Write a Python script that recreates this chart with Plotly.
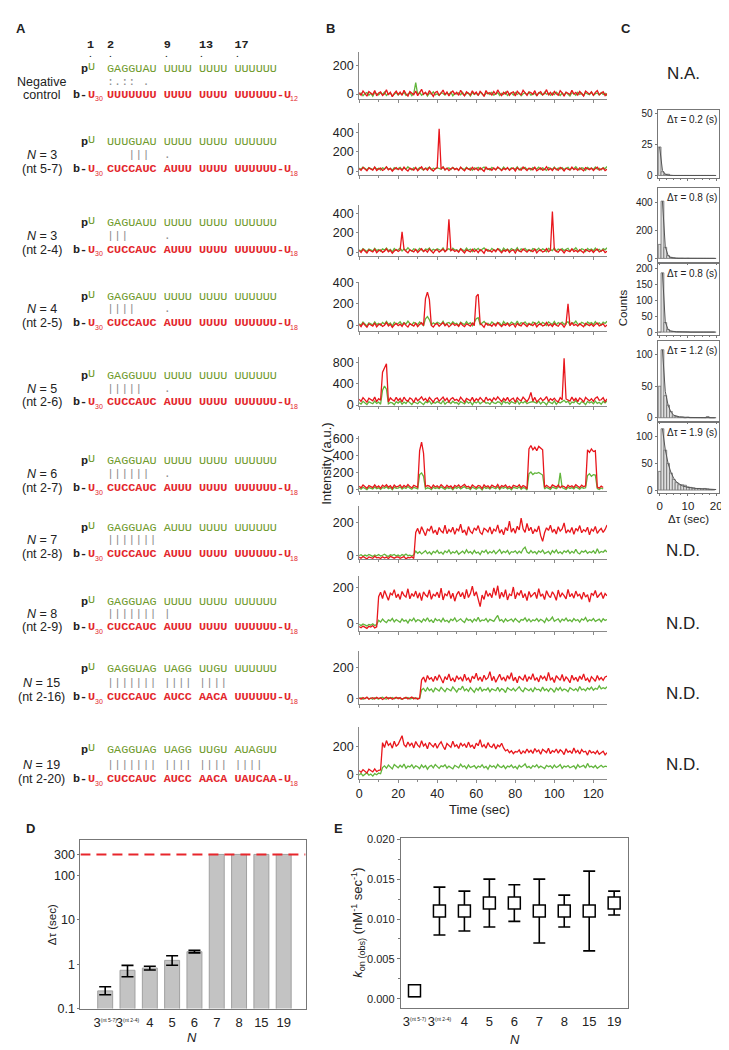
import plotly.graph_objects as go

# ======================= DATA =======================
# Panel A: sequences
row_label_top = ["Negative", "<i>N</i> = 3", "<i>N</i> = 3", "<i>N</i> = 4", "<i>N</i> = 5",
                 "<i>N</i> = 6", "<i>N</i> = 7", "<i>N</i> = 8", "<i>N</i> = 15", "<i>N</i> = 19"]
row_label_bottom = ["control", "(nt 5-7)", "(nt 2-4)", "(nt 2-5)", "(nt 2-6)",
                    "(nt 2-7)", "(nt 2-8)", "(nt 2-9)", "(nt 2-16)", "(nt 2-20)"]
guide_seq = ["GAGGUAU UUUU UUUU UUUUUU", "UUUGUAU UUUU UUUU UUUUUU", "GAGUAUU UUUU UUUU UUUUUU",
             "GAGGAUU UUUU UUUU UUUUUU", "GAGGUUU UUUU UUUU UUUUUU", "GAGGUAU UUUU UUUU UUUUUU",
             "GAGGUAG AUUU UUUU UUUUUU", "GAGGUAG UUUU UUUU UUUUUU", "GAGGUAG UAGG UUGU UUUUUU",
             "GAGGUAG UAGG UUGU AUAGUU"]
pair_marks = [":.:: .", "   |||  .", "|||     .", "||||    .", "|||||   .", "||||||  .",
              "|||||||", "||||||| |", "||||||| |||| ||||", "||||||| |||| |||| ||||"]
target_seq = ["UUUUUUU UUUU UUUU UUUUUU-U", "CUCCAUC AUUU UUUU UUUUUU-U", "CUCCAUC AUUU UUUU UUUUUU-U",
              "CUCCAUC AUUU UUUU UUUUUU-U", "CUCCAUC AUUU UUUU UUUUUU-U", "CUCCAUC AUUU UUUU UUUUUU-U",
              "CUCCAUC AUUU UUUU UUUUUU-U", "CUCCAUC AUUU UUUU UUUUUU-U", "CUCCAUC AUCC AACA UUUUUU-U",
              "CUCCAUC AUCC AACA UAUCAA-U"]
target_tail = ["12", "18", "18", "18", "18", "18", "18", "18", "18", "18"]
header_numbers = "2       9    13   17"
header_dot_columns = [0, 8, 13, 18]

# Panel B: single-molecule traces (1 sample per second)
frame_interval = 1.0
p1_red = [10, -8, 22, 3, -15, 18, 6, -4, 25, -12, 8, 15, -10, 2, 30, -6, 12, -18, 5, 20,
          -3, 14, -9, 26, 1, -14, 17, 7, -5, 22, -11, 9, 33, -2, 13, -7, 24, 4, -16, 11,
          19, -8, 6, 28, -4, 15, -13, 9, 21, -1, 12, -9, 27, 3, -12, 16, 8, -6, 23, 0,
          14, -10, 19, 5, -17, 25, 2, 10, -7, 18, -3, 29, 6, -11, 13, 1, 22, -8, 9, 16,
          -14, 20, 4, -5, 26, 7, -9, 15, 11, -2, 24, -12, 8, 17, -6, 3, 31, -4, 12, -10,
          19, 2, -8, 23, 9, -15, 14, 6, -3, 27, 0, 11, -7, 18, 5, -13, 21, 8, -1, 15,
          -9, 12, 25, -5, 7, 16, -11, 4]
p1_green = [-5, 8, -12, 3, 10, -8, 5, -15, 12, 0, -6, 9, -3, 14, -10, 4, 7, -13, 2, 11,
            -7, 6, -2, 13, -9, 1, 10, -11, 5, 80, -4, 12, -8, 3, 9, -14, 6, -1, 15, -6,
            2, -10, 11, 4, -7, 8, -3, 13, -12, 5, 0, 9, -5, 12, -9, 3, 7, -13, 10, -2,
            6, -8, 14, 1, -11, 5, 9, -4, 12, -7, 3, 10, -9, 6, -2, 13, -10, 4, 8, -6,
            11, -3, 7, -12, 2, 9, -5, 14, -8, 1, 5, -11, 10, 3, -7, 12, -1, 6, -9, 8,
            -4, 13, 2, -10, 7, -6, 11, 0, -13, 9, 4, -8, 12, -3, 6, -11, 10, 1, -5, 14,
            -9, 3, 8, -7, 11, -2, 5, -12]
p2_red = [25, 8, 38, 15, 2, 33, 19, 10, 41, 5, 22, 30, 6, 18, 44, 12, 27, -2, 20, 35,
          14, 29, 7, 40, 16, 0, 31, 21, 9, 37, 3, 24, 45, 13, 28, 8, 39, 18, -1, 26,
          33, 440, 20, 42, 11, 30, 4, 23, 36, 15, 27, 6, 41, 17, 2, 32, 22, 10, 38, 14,
          29, 5, 34, 19, -3, 40, 16, 25, 8, 33, 12, 43, 21, 4, 28, 15, 37, 7, 24, 31,
          1, 35, 18, 10, 41, 22, 6, 30, 26, 13, 39, 3, 23, 32, 9, 17, 45, 11, 27, 5,
          34, 16, 8, 38, 24, 0, 29, 20, 12, 42, 15, 26, 7, 33, 19, 2, 36, 23, 14, 30,
          6, 27, 40, 10, 22, 31, 4, 18]
p2_green = [30, 18, 40, 22, 12, 35, 26, 15, 38, 20, 28, 10, 33, 24, 42, 17, 29, 8, 36, 21,
            25, 39, 14, 31, 19, 44, 23, 11, 34, 27, 16, 37, 22, 9, 32, 26, 41, 13, 30, 20,
            35, 24, 18, 43, 12, 28, 33, 16, 39, 22, 27, 10, 36, 25, 14, 40, 19, 31, 8, 34,
            23, 38, 15, 29, 42, 20, 26, 11, 37, 24, 17, 33, 28, 9, 41, 21, 30, 14, 35, 25,
            19, 44, 12, 32, 23, 38, 16, 27, 10, 36, 29, 21, 40, 15, 33, 24, 8, 37, 26, 18,
            42, 13, 31, 22, 35, 17, 28, 39, 11, 30, 25, 45, 20, 14, 34, 27, 9, 38, 23, 32,
            16, 41, 19, 29, 12, 36, 24, 47]
p3_red = [15, -4, 28, 8, -10, 22, 12, 0, 30, -6, 14, 20, -3, 9, 33, 2, 18, -12, 11, 25,
          5, 19, 210, 29, 7, -8, 23, 13, 1, 27, -5, 16, 35, 4, 20, -2, 31, 10, -11, 17,
          24, -1, 12, 30, 3, 21, 340, 15, 26, 6, 18, -3, 32, 9, -9, 22, 14, 0, 28, 5,
          20, -6, 25, 11, -13, 30, 8, 16, -1, 24, 3, 34, 12, -7, 19, 7, 27, -4, 15, 21,
          -10, 26, 10, 1, 31, 13, -2, 20, 17, 4, 29, -8, 14, 23, 0, 9, 36, 2, 18, 420,
          25, 6, -3, 28, 15, -9, 19, 11, 3, 32, 5, 17, -1, 24, 10, -7, 26, 13, 4, 21,
          -4, 18, 30, 0, 12, 22, -6, 9]
p3_green = [22, 10, 35, 18, 5, 30, 24, 12, 38, 15, 26, 8, 33, 20, 42, 14, 28, 2, 36, 19,
            23, 40, 11, 31, 17, 45, 21, 9, 34, 25, 13, 37, 20, 6, 32, 24, 41, 10, 29, 18,
            35, 22, 16, 43, 8, 27, 33, 14, 39, 20, 25, 5, 36, 23, 12, 40, 17, 30, 4, 34,
            21, 38, 13, 28, 42, 18, 25, 7, 37, 22, 15, 33, 27, 3, 41, 19, 30, 11, 35, 24,
            16, 44, 9, 32, 21, 38, 14, 26, 6, 36, 28, 19, 40, 12, 33, 23, 4, 37, 25, 15,
            42, 10, 31, 20, 35, 14, 27, 39, 8, 30, 24, 45, 18, 11, 34, 26, 5, 38, 22, 32,
            13, 41, 17, 29, 9, 36, 23, 44]
p4_red = [5, -14, 18, -2, -20, 12, 2, -10, 20, -16, 4, 10, -13, -1, 24, -8, 8, -22, 1, 15,
          -6, 9, -12, 19, -3, -18, 13, 3, -9, 17, -15, 6, 22, -5, 250, 310, 240, -4, -19, 7,
          14, -11, 2, 23, -7, 11, -17, 5, 16, -4, 8, -12, 21, -1, -15, 12, 4, -9, 18, -6,
          270, 290, 14, 1, -21, 19, -2, 6, -11, 13, -7, 23, 2, -14, 9, -3, 17, -10, 5, 11,
          -18, 15, 0, -8, 20, 3, -13, 10, 7, -5, 18, -16, 4, 12, -9, -1, 24, -7, 8, -13,
          14, -2, -11, 17, 5, -19, 9, 200, -6, 21, -4, 7, -10, 13, 1, -16, 16, 4, -5, 10,
          -12, 8, 19, -8, 3, 11, -15, 0]
p4_green = [12, 0, 28, 8, -8, 22, 14, 2, 30, 5, 16, -2, 25, 10, 35, 6, 20, -10, 27, 11,
            15, 32, 3, 23, 9, 38, 13, 1, 26, 17, 5, 29, 12, -4, 60, 80, 50, 2, 21, 10,
            27, 14, 8, 36, 0, 19, 25, 6, 31, 12, 17, -5, 28, 15, 4, 32, 9, 22, -6, 26,
            60, 70, 5, 20, 34, 10, 17, -1, 29, 14, 7, 25, 19, -7, 33, 11, 22, 3, 27, 16,
            8, 37, 1, 24, 13, 30, 6, 18, -2, 28, 20, 11, 32, 4, 25, 15, -4, 29, 17, 7,
            34, 2, 23, 12, 27, 6, 19, 31, 0, 22, 16, 38, 10, 3, 26, 18, -3, 30, 14, 24,
            5, 33, 9, 21, 1, 28, 15, 36]
p5_red = [110, 70, 140, 95, 55, 130, 105, 80, 150, 65, 120, 90, 620, 700, 780, 60, 135, 100, 75, 145,
          85, 125, 60, 150, 95, 70, 135, 110, 50, 140, 80, 115, 155, 90, 125, 65, 145, 100, 55, 120,
          135, 75, 105, 150, 85, 130, 60, 115, 140, 90, 110, 70, 150, 95, 55, 125, 100, 80, 145, 65,
          120, 85, 140, 105, 60, 150, 90, 115, 75, 135, 95, 155, 105, 65, 125, 85, 145, 70, 110, 130,
          55, 140, 100, 80, 150, 95, 65, 125, 240, 75, 145, 60, 105, 135, 85, 110, 160, 70, 120, 90,
          130, 80, 60, 140, 100, 880, 115, 95, 75, 150, 85, 125, 65, 135, 105, 55, 145, 110, 80, 120,
          70, 130, 155, 90, 100, 140, 65, 115]
p5_green = [45, 20, 70, 35, 10, 60, 48, 25, 75, 30, 55, 15, 280, 360, 300, 22, 50, 40, 5, 65,
            38, 72, 18, 58, 30, 80, 42, 12, 62, 50, 25, 68, 40, 8, 60, 45, 78, 20, 55, 35,
            65, 42, 28, 82, 15, 52, 60, 30, 72, 40, 48, 10, 66, 44, 22, 75, 35, 58, 5, 63,
            40, 70, 25, 52, 80, 35, 46, 14, 68, 42, 28, 62, 50, 8, 76, 38, 55, 20, 66, 45,
            30, 82, 18, 60, 40, 72, 25, 48, 60, 67, 52, 35, 75, 22, 62, 44, 5, 70, 46, 28,
            78, 15, 58, 40, 65, 90, 50, 72, 12, 56, 44, 85, 35, 18, 64, 48, 8, 70, 40, 60,
            24, 76, 32, 54, 15, 68, 42, 80]
p6_red = [45, 25, 58, 35, 20, 52, 40, 28, 60, 30, 48, 22, 55, 38, 62, 32, 50, 18, 57, 36,
          42, 60, 26, 53, 34, 64, 40, 24, 55, 46, 30, 460, 560, 430, 38, 52, 45, 20, 58, 35,
          50, 28, 62, 40, 24, 56, 33, 47, 18, 54, 38, 60, 30, 49, 65, 35, 44, 22, 58, 40,
          27, 53, 46, 16, 61, 36, 50, 25, 57, 42, 32, 65, 22, 51, 39, 59, 28, 44, 20, 55,
          46, 37, 62, 27, 52, 41, 15, 480, 520, 470, 500, 460, 510, 490, 470, 30, 55, 38, 24, 60,
          43, 34, 58, 26, 48, 40, 21, 56, 36, 50, 30, 62, 44, 28, 57, 39, 48, 470, 440, 480,
          450, 460, 35, 22, 46, 30]
p6_green = [22, 10, 32, 18, 5, 28, 22, 12, 35, 15, 25, 6, 30, 20, 38, 14, 27, 2, 33, 19,
            23, 36, 11, 29, 17, 40, 21, 8, 31, 24, 13, 180, 200, 160, 12, 26, 20, 4, 33, 17,
            28, 14, 37, 22, 7, 30, 16, 26, 3, 32, 19, 35, 12, 27, 39, 17, 24, 6, 34, 21,
            10, 29, 25, 0, 36, 18, 28, 9, 33, 23, 14, 38, 5, 30, 20, 35, 11, 24, 3, 31,
            26, 18, 37, 9, 29, 22, 1, 190, 210, 180, 200, 195, 205, 185, 175, 12, 31, 19, 7, 34,
            24, 15, 33, 200, 27, 20, 5, 32, 17, 28, 13, 36, 23, 10, 31, 19, 26, 170, 190, 160,
            180, 175, 16, 6, 24, 12]
p7_red = [-12, -18, -8, -15, -22, -10, -14, -19, -6, -16, -13, -20, -9, -17, -11, -21, -7, -15, -18, -12,
          -10, -19, -14, -8, -22, -13, -16, -9, -20, 140, 165, 130, 175, 145, 120, 160, 150, 180, 135, 155,
          125, 170, 148, 138, 185, 132, 158, 142, 172, 128, 162, 150, 190, 138, 155, 122, 176, 146, 134, 168,
          152, 182, 140, 128, 165, 156, 143, 174, 130, 160, 148, 186, 136, 158, 125, 170, 150, 210, 142, 166,
          135, 178, 155, 228, 162, 140, 195, 150, 172, 132, 158, 144, 180, 120, 85, 138, 168, 152, 184, 140,
          160, 130, 175, 148, 162, 198, 136, 155, 142, 170, 128, 164, 150, 182, 138, 157, 146, 172, 125, 160,
          148, 176, 134, 152, 165, 140, 158, 185]
p7_green = [-2, 3, -6, 1, -4, 5, -1, -7, 2, -3, 4, -5, 0, 6, -2, -8, 3, -1, 5, -4,
            1, -6, 4, -2, 7, -3, 0, -5, 3, 25, 12, 22, 8, 18, 28, 10, 20, 5, 24, 15,
            30, 12, 19, 7, 26, 16, 32, 9, 21, 14, 27, 6, 18, 25, 11, 33, 15, 22, 8, 29,
            13, 20, 4, 26, 17, 31, 10, 23, 14, 28, 9, 19, 35, 12, 24, 16, 30, 7, 22, 18,
            27, 11, 25, 14, 38, 50, 20, 12, 29, 15, 22, 8, 26, 17, 31, 10, 19, 24, 6, 28,
            16, 33, 12, 21, 9, 27, 18, 30, 11, 24, 14, 36, 15, 8, 25, 19, 29, 12, 22, 16,
            28, 10, 40, 14, 23, 18, 31, 20]
p8_red = [-18, -24, -15, -22, -28, -16, -20, -12, -25, -19, 150, 175, 140, 185, 155, 130, 170, 160, 190, 145,
          165, 135, 180, 158, 148, 195, 138, 168, 152, 182, 142, 172, 128, 178, 160, 150, 188, 136, 164, 154,
          176, 144, 198, 132, 166, 156, 184, 140, 170, 125, 162, 180, 150, 174, 138, 192, 146, 168, 210, 155,
          178, 142, 95, 160, 135, 185, 152, 170, 145, 200, 158, 212, 140, 176, 148, 190, 132, 165, 155, 205,
          138, 172, 160, 186, 144, 168, 128, 180, 150, 162, 175, 140, 196, 152, 166, 134, 184, 158, 145, 178,
          160, 130, 188, 148, 170, 156, 138, 192, 150, 168, 142, 182, 155, 164, 136, 176, 148, 162, 120, 170,
          158, 185, 146, 160, 172, 140, 168, 155]
p8_green = [-5, -12, -3, -9, -14, -6, -10, -2, -11, -7, 18, 8, 24, 12, 5, 20, 14, 28, 9, 22,
            16, 6, 26, 13, 19, 3, 23, 15, 30, 10, 21, 17, 7, 25, 14, 32, 11, 20, 4, 27,
            15, 22, 9, 29, 12, 18, 6, 24, 16, 31, 10, 19, 26, 13, 5, 28, 17, 22, 8, 25,
            14, 34, 11, 20, 16, 27, 9, 23, 18, 12, 30, 45, 15, 21, 7, 26, 13, 19, 24, 10,
            28, 16, 6, 22, 18, 31, 12, 25, 9, 20, 15, 27, 11, 23, 17, 5, 29, 14, 21, 36,
            12, 19, 26, 8, 24, 16, 30, 13, 20, 10, 27, 15, 22, 7, 25, 18, 33, 11, 21, 16,
            28, 12, 19, 24, 9, 26, 17, 22]
p9_red = [3, -5, 6, -2, 8, -6, 1, 5, -4, 7, -1, 4, -7, 2, 9, -3, 6, -5, 0, 8,
          -2, 5, -6, 3, 7, -4, 1, 9, -3, 4, -5, 2, 120, 140, 105, 150, 125, 135, 110, 145,
          118, 155, 128, 100, 142, 122, 160, 115, 132, 108, 148, 126, 138, 112, 158, 120, 134, 104, 146, 128,
          165, 118, 140, 110, 152, 124, 136, 175, 116, 144, 106, 130, 158, 120, 140, 112, 150, 126, 168, 115,
          138, 102, 146, 130, 120, 155, 110, 142, 124, 162, 118, 136, 108, 150, 128, 144, 114, 170, 122, 134,
          104, 148, 130, 118, 156, 112, 140, 126, 102, 152, 120, 138, 110, 146, 124, 160, 116, 132, 106, 142,
          128, 112, 150, 122, 136, 118, 140, 145]
p9_green = [-2, 4, -5, 1, 6, -3, 2, -6, 5, 0, -4, 3, 7, -1, -5, 4, 0, 6, -3, 2,
            5, -2, -6, 3, 1, 6, -4, 0, 4, -3, 2, -1, 55, 65, 45, 70, 52, 62, 40, 68,
            58, 48, 72, 55, 44, 66, 60, 50, 75, 54, 42, 64, 58, 80, 50, 62, 46, 70, 56, 40,
            66, 52, 74, 48, 60, 54, 68, 44, 62, 58, 50, 72, 46, 64, 56, 38, 70, 60, 52, 66,
            48, 62, 76, 54, 44, 68, 58, 50, 64, 42, 70, 56, 60, 48, 74, 52, 62, 46, 66, 58,
            40, 68, 54, 72, 50, 62, 56, 44, 70, 60, 52, 64, 48, 78, 56, 62, 50, 68, 58, 74,
            54, 66, 60, 82, 62, 70, 64, 76]
p10_red = [28, 15, 35, 22, 10, 38, 25, 18, 40, 20, 30, 32, 230, 195, 245, 210, 225, 190, 240, 205,
           218, 250, 280, 215, 200, 235, 208, 228, 192, 238, 212, 198, 244, 206, 222, 186, 232, 214, 200, 226,
           190, 218, 236, 204, 180, 224, 210, 196, 240, 202, 214, 188, 228, 206, 220, 194, 234, 200, 212, 186,
           226, 208, 252, 198, 216, 190, 230, 204, 196, 222, 184, 212, 200, 226, 192, 170, 180, 158, 172, 150,
           166, 162, 178, 148, 170, 156, 184, 160, 174, 152, 188, 164, 176, 146, 182, 168, 158, 190, 150, 172,
           162, 184, 154, 178, 166, 144, 186, 160, 170, 152, 192, 158, 174, 148, 180, 162, 168, 140, 176, 156,
           164, 150, 172, 146, 160, 168, 142, 158]
p10_green = [-5, 8, -10, 4, 12, -6, 2, -12, 6, -2, 10, 5, 50, 62, 45, 68, 55, 40, 72, 58,
             48, 66, 52, 75, 44, 60, 54, 70, 46, 62, 56, 42, 68, 50, 64, 38, 58, 66, 48, 72,
             54, 44, 62, 56, 70, 46, 60, 52, 40, 66, 58, 48, 74, 54, 62, 42, 68, 50, 56, 64,
             44, 60, 52, 70, 48, 58, 38, 66, 54, 62, 46, 72, 56, 50, 64, 42, 60, 54, 68, 48,
             58, 40, 66, 52, 62, 76, 50, 58, 44, 64, 54, 70, 48, 60, 52, 42, 66, 56, 62, 46,
             68, 50, 58, 72, 44, 60, 54, 64, 48, 56, 62, 42, 70, 52, 58, 66, 46, 80, 54, 60,
             50, 64, 44, 58, 66, 52, 60, 56]
red_traces = [p1_red, p2_red, p3_red, p4_red, p5_red, p6_red, p7_red, p8_red, p9_red, p10_red]
green_traces = [p1_green, p2_green, p3_green, p4_green, p5_green, p6_green, p7_green, p8_green, p9_green, p10_green]
trace_yticks = [[0, 200], [0, 200, 400], [0, 200, 400], [0, 200, 400], [0, 400, 800],
                [0, 200, 400, 600], [0, 200], [0, 200], [0, 200], [0, 200]]

# Panel C: dwell-time histograms (1 s bins)
c_status = ["N.A.", None, None, None, None, None, "N.D.", "N.D.", "N.D.", "N.D."]
bin_centers = [0, 1, 2, 3, 4, 5, 6, 7, 8, 9, 10, 11, 12, 13, 14, 15, 16, 17, 18, 19]
hist_counts = [
    [23, 3, 1, 1, 0, 0, 0, 0, 0, 0, 0, 0, 0, 0, 0, 0, 0, 0, 0, 0],
    [100, 410, 80, 20, 8, 4, 2, 1, 1, 0, 1, 0, 0, 0, 0, 0, 0, 0, 0, 0],
    [0, 185, 30, 8, 3, 2, 1, 1, 1, 1, 1, 0, 0, 0, 0, 0, 0, 0, 0, 0],
    [50, 108, 35, 20, 10, 3, 2, 1, 1, 0, 1, 0, 0, 0, 0, 0, 0, 2, 0, 0],
    [35, 115, 75, 50, 32, 20, 14, 10, 10, 9, 6, 5, 4, 3, 3, 2, 3, 2, 1, 1],
]
fit_x = [[0, 1, 2, 3, 5, 20], [1, 2, 3, 4, 6, 10, 20], [1, 2, 3, 4, 6, 10, 20],
         [1, 2, 3, 4, 5, 7, 10, 20], [1, 2, 3, 4, 5, 6, 8, 10, 13, 16, 20]]
fit_y = [[23, 4, 1, 0.3, 0, 0], [410, 85, 20, 6, 1, 0, 0], [185, 32, 8, 3, 1, 0, 0],
         [108, 42, 20, 9, 4, 1.5, 0.5, 0], [115, 76, 50, 33, 22, 15, 8, 5, 3, 2, 1]]
dwell_text = ["0.2", "0.8", "0.8", "1.2", "1.9"]
hist_yticks = [[0, 25, 50], [0, 200, 400], [0, 50, 100, 150, 200], [0, 50, 100], [0, 50, 100]]

# Panels D & E
n_values = ["3", "3", "4", "5", "6", "7", "8", "15", "19"]
n_notes = ["nt 5-7", "nt 2-4", "", "", "", "", "", "", ""]
dwell_mean = [0.25, 0.73, 0.82, 1.22, 1.92, 300, 300, 300, 300]
dwell_lo = [0.205, 0.52, 0.74, 0.95, 1.8]
dwell_hi = [0.31, 0.94, 0.9, 1.55, 2.05]
dwell_limit = 300
kon_mean = [0.001, 0.011, 0.011, 0.012, 0.012, 0.011, 0.011, 0.011, 0.012]
kon_lo = [0.0003, 0.008, 0.0085, 0.009, 0.0097, 0.007, 0.009, 0.006, 0.0105]
kon_hi = [0.0016, 0.014, 0.0135, 0.015, 0.0143, 0.015, 0.013, 0.016, 0.0135]

# ======================= STYLE / LAYOUT =======================
W, H = 729, 1050
SANS = "Liberation Sans, Arial, sans-serif"
MONO = "Liberation Mono, Courier New, monospace"
RED = "#e3262c"
GREEN_TXT = "#6f9a2c"
TR_RED = "#e8161c"
TR_GREEN = "#62b53c"
AXC = "#8a8a8a"
INK = "#222222"
MS = 11.8
CW = MS * 0.6


def dx(a, b):
    return [a / W, b / W]


def dy(top, bot):
    return [1 - bot / H, 1 - top / H]


def nb(s):
    return s.replace(" ", "\u00a0")


anns = []


def ann(text, x, y, size=12, color=INK, xanchor="center", yanchor="middle", family=SANS, angle=0):
    anns.append(dict(text=text, x=x / W, y=1 - y / H, xref="paper", yref="paper", showarrow=False,
                     xanchor=xanchor, yanchor=yanchor, textangle=angle, borderpad=0, borderwidth=0,
                     font=dict(size=size, color=color, family=family)))


fig = go.Figure()
layout = dict(width=W, height=H, margin=dict(l=0, r=0, t=0, b=0), paper_bgcolor="white",
              plot_bgcolor="rgba(0,0,0,0)", showlegend=False, barmode="overlay",
              font=dict(family=SANS, color=INK, size=12))

# ---------------- Panel A ----------------
A_rows = [(56, 69, 82), (130, 143, 157), (212, 225, 239), (287, 299, 313), (367, 380, 393),
          (453, 466, 480), (520, 533, 547), (595, 608, 621), (663, 677, 692), (745, 760, 775)]
ann("<b>A</b>", 10, 15, 13)
ann("<b>1</b>", 80.5, 31, MS, family=MONO)
ann("<b>" + nb(header_numbers) + "</b>", 97, 31, MS, xanchor="left", family=MONO)
ann("<b>.</b>", 80.5, 41, 8, family=MONO)
for c in header_dot_columns:
    ann("<b>.</b>", 97 + c * CW + CW / 2, 41, 8, family=MONO)
for i in range(10):
    yg, yb, yr = A_rows[i]
    ann(row_label_top[i], 31, yb, 12.5)
    ann(row_label_bottom[i], 31, yr, 12.5)
    ann("<b>p</b>", 71, yg, MS, INK, "left", family=MONO)
    ann("U", 77.5, yg - 2, MS, GREEN_TXT, "left", family=MONO)
    ann(nb(guide_seq[i]), 97, yg, MS, GREEN_TXT, "left", family=MONO)
    ann(nb(pair_marks[i]), 97, yb, MS, "#8f8f8f", "left", family=MONO)
    ann("<b>b-</b>", 63, yr, MS, INK, "left", family=MONO)
    ann("<b>U</b>", 77.5, yr, MS, RED, "left", family=MONO)
    ann("30", 85, yr + 4, 7, RED, "left")
    ann("<b>" + nb(target_seq[i]) + "</b>", 97, yr, MS, RED, "left", family=MONO)
    ann(target_tail[i], 97 + len(target_seq[i]) * CW + 0.5, yr + 4, 7, RED, "left")

# ---------------- Panel B ----------------
B_tops = [38, 110, 193, 271, 347, 427, 498, 569, 645, 722]
B_bots = [86, 163, 245, 321, 397, 483, 552, 625, 699, 775]
B_ranges = [[-34, 297], [-41, 503], [-41, 492], [-56, 409], [-19, 912], [-12, 635],
            [-24, 303], [-44, 267], [-39, 310], [-36, 343]]
for i in range(10):
    k = "" if i == 0 else str(i + 1)
    g = green_traces[i]
    r = red_traces[i]
    fig.add_trace(go.Scatter(x=[j * frame_interval for j in range(len(g))], y=g, mode="lines",
                             line=dict(color=TR_GREEN, width=1.3), xaxis="x" + k, yaxis="y" + k,
                             hoverinfo="skip"))
    fig.add_trace(go.Scatter(x=[j * frame_interval for j in range(len(r))], y=r, mode="lines",
                             line=dict(color=TR_RED, width=1.3), xaxis="x" + k, yaxis="y" + k,
                             hoverinfo="skip"))
    layout["xaxis" + k] = dict(domain=dx(351, 601), range=[0, 127], anchor="y" + k, showline=True,
                               linecolor=AXC, linewidth=1, ticks="outside", ticklen=3, tickcolor=AXC,
                               tick0=0, dtick=20, showticklabels=(i == 9), showgrid=False, zeroline=False,
                               tickfont=dict(size=12.5, family=SANS, color=INK), tickangle=0,
                               minor=dict(ticks="outside", ticklen=2, dtick=10, tickcolor=AXC))
    layout["yaxis" + k] = dict(domain=dy(B_tops[i], B_bots[i]), range=B_ranges[i], anchor="x" + k,
                               showline=True, linecolor=AXC, linewidth=1, ticks="outside", ticklen=2,
                               tickcolor=AXC, tickvals=trace_yticks[i], showgrid=False, zeroline=False,
                               tickfont=dict(size=12.5, family=SANS, color=INK))
ann("<b>B</b>", 322, 15, 13)
ann("Intensity (a.u.)", 318, 455, 13, angle=-90)
ann("Time (sec)", 472, 805, 13)

# ---------------- Panel C ----------------
ann("<b>C</b>", 620, 15, 13)
C_tops = [97, 176, 253, 331, 414]
C_bots = [166, 251, 325, 412, 485]
C_ranges = [[-2, 53], [-25, 505], [-9, 213], [-5, 122], [-5.5, 126]]
for j in range(5):
    n = 11 + j
    k = str(n)
    fig.add_trace(go.Bar(x=bin_centers, y=hist_counts[j], width=1,
                         marker=dict(color="#dedede", line=dict(color="#707070", width=0.8)),
                         xaxis="x" + k, yaxis="y" + k, hoverinfo="skip"))
    fig.add_trace(go.Scatter(x=fit_x[j], y=fit_y[j], mode="lines", line=dict(color="#555555", width=1),
                             xaxis="x" + k, yaxis="y" + k, hoverinfo="skip"))
    layout["xaxis" + k] = dict(domain=dx(652, 714), range=[-0.7, 21.05], anchor="y" + k, showline=True,
                               mirror=True, linecolor="#777", linewidth=1, ticks="outside", ticklen=2,
                               tickcolor="#777", tick0=0, dtick=10, showticklabels=(j == 4),
                               showgrid=False, zeroline=False, tickangle=0,
                               tickfont=dict(size=11.5, family=SANS, color=INK),
                               minor=dict(ticks="outside", ticklen=1.5, dtick=2.5, tickcolor="#777"))
    layout["yaxis" + k] = dict(domain=dy(C_tops[j], C_bots[j]), range=C_ranges[j], anchor="x" + k,
                               showline=True, mirror=True, linecolor="#777", linewidth=1, ticks="outside",
                               ticklen=2, tickcolor="#777", tickvals=hist_yticks[j], showgrid=False,
                               zeroline=False, tickfont=dict(size=10, family=SANS, color=INK))
    ann("\u0394\u03c4 = " + dwell_text[j] + " (s)", 712, C_tops[j] + 10, 10, xanchor="right")
ND_y = [60, None, None, None, None, None, 543, 617, 688, 760]
for i in range(10):
    if c_status[i]:
        ann(c_status[i], 678, ND_y[i], 17)
ann("Counts", 617, 297, 11.5, angle=-90)
ann("\u0394\u03c4 (sec)", 683, 511, 11.5)

# ---------------- Panel D ----------------
tick_labels = [v + ("<sup><span style='font-size:5px'>(" + nt + ")</span></sup>" if nt else "")
               for v, nt in zip(n_values, n_notes)]
pos = list(range(len(n_values)))
ne = len(dwell_lo)
fig.add_trace(go.Bar(x=pos[:ne], y=dwell_mean[:ne], width=0.67, xaxis="x16", yaxis="y16",
                     marker=dict(color="#c3c3c3", line=dict(color="#a0a0a0", width=1)),
                     error_y=dict(type="data", symmetric=False,
                                  array=[h - m for h, m in zip(dwell_hi, dwell_mean[:ne])],
                                  arrayminus=[m - l for l, m in zip(dwell_lo, dwell_mean[:ne])],
                                  color="black", thickness=1.6, width=6), hoverinfo="skip"))
fig.add_trace(go.Bar(x=pos[ne:], y=dwell_mean[ne:], width=0.67, xaxis="x16", yaxis="y16",
                     marker=dict(color="#c3c3c3", line=dict(color="#a0a0a0", width=1)), hoverinfo="skip"))
fig.add_trace(go.Scatter(x=[0, 1], y=[dwell_limit, dwell_limit], mode="lines", xaxis="x18", yaxis="y16",
                         line=dict(color="#e8262c", width=2, dash="10px,6px"), hoverinfo="skip"))
layout["xaxis16"] = dict(domain=dx(70, 297), range=[-1.11, 8.98], anchor="y16", showline=True, mirror=True,
                         linecolor="#777", linewidth=1, tickvals=pos, ticktext=tick_labels, ticks="outside",
                         ticklen=2, tickcolor="rgba(0,0,0,0)", showgrid=False, zeroline=False, tickangle=0,
                         tickfont=dict(size=13, family=SANS, color=INK))
layout["xaxis18"] = dict(overlaying="x16", range=[0, 1], anchor="y16", visible=False)
layout["yaxis16"] = dict(domain=dy(836, 1007), type="log", range=[-1, 2.81], anchor="x16", showline=True,
                         mirror=True, linecolor="#777", linewidth=1, tickvals=[0.1, 1, 10, 100, 300],
                         ticktext=["0.1", "1", "10", "100", "300"], ticks="outside", ticklen=2,
                         tickcolor="#777", showgrid=False, zeroline=False,
                         tickfont=dict(size=12.5, family=SANS, color=INK))
ann("<b>D</b>", 20, 825, 13)
ann("\u0394\u03c4 (sec)", 41, 922, 11.5, angle=-90)
ann("<i>N</i>", 183, 1036, 13)

# ---------------- Panel E ----------------
fig.add_trace(go.Scatter(x=pos, y=kon_mean, mode="markers", xaxis="x17", yaxis="y17",
                         marker=dict(symbol="square", size=12, color="white", line=dict(color="black", width=1.5)),
                         error_y=dict(type="data", symmetric=False,
                                      array=[h - m for h, m in zip(kon_hi, kon_mean)],
                                      arrayminus=[m - l for l, m in zip(kon_lo, kon_mean)],
                                      color="black", thickness=1.6, width=6), hoverinfo="skip"))
layout["xaxis17"] = dict(domain=dx(393, 622), range=[-0.55, 8.55], anchor="y17", showline=True, mirror=True,
                         linecolor="#777", linewidth=1, tickvals=pos, ticktext=tick_labels, ticks="outside",
                         ticklen=2, tickcolor="rgba(0,0,0,0)", showgrid=False, zeroline=False, tickangle=0,
                         tickfont=dict(size=13, family=SANS, color=INK))
layout["yaxis17"] = dict(domain=dy(834, 1006), range=[-0.0011, 0.0202], anchor="x17", showline=True,
                         mirror=True, linecolor="#777", linewidth=1,
                         tickvals=[0, 0.005, 0.01, 0.015, 0.02], tickformat=".3f", ticks="outside",
                         ticklen=3, tickcolor="#777", showgrid=False, zeroline=False,
                         tickfont=dict(size=11, family=SANS, color=INK),
                         minor=dict(ticks="outside", ticklen=2, dtick=0.0025, tickcolor="#777"))
ann("<b>E</b>", 330, 825, 13)
ann("<i>k</i><sub>on (obs)</sub> (nM<sup>-1</sup> sec<sup>-1</sup>)", 349, 920, 13, angle=-90)
ann("<i>N</i>", 508, 1038, 13)

layout["annotations"] = anns
fig.update_layout(**layout)
fig.write_html("out.html")
